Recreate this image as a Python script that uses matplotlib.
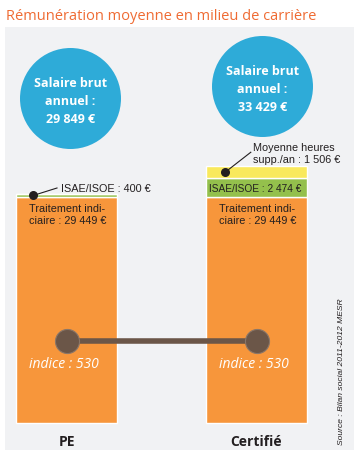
import matplotlib.pyplot as plt

# data
categories = ["PE", "Certifié"]
traitement = [29449, 29449]
isae = [400, 2474]
heures_supp = [0, 1506]
salaire = ["29 849 €", "33 429 €"]
indice = [530, 530]

orange = "#f7963b"
green = "#94c04c"
yellow = "#f9e95c"
blue = "#2eabd8"
brown = "#6b5648"
dark = "#231f20"
narrow = ["Liberation Sans", "DejaVu Sans"]

fig = plt.figure(figsize=(3.61, 4.56), dpi=100)
fig.patch.set_facecolor("white")
fig.text(6 / 361, 1 - 16 / 456, "Rémunération moyenne en milieu de carrière",
         color="#ef6b33", fontsize=10.5, family="Open Sans", va="center", ha="left")

# panel area in pixels: x 5..354, y 28..451
ax = fig.add_axes([5 / 361, 1 - 451 / 456, 349 / 361, 423 / 456])
ax.set_facecolor("#f1f2f4")
for s in ax.spines.values():
    s.set_visible(False)
ax.set_xticks([])
ax.set_yticks([])

scale = 29449 / 226  # euros per pixel
ax.set_xlim(-61.5 / 190, 1 + 97.5 / 190)
ax.set_ylim(-27 * scale, 396 * scale)

x = [0, 1]
w = 101 / 190
ax.bar(x, traitement, width=w, color=orange, edgecolor="white", linewidth=1)
ax.bar(x, isae, width=w, bottom=traitement, color=green, edgecolor="white", linewidth=1)
bottom3 = [t + i for t, i in zip(traitement, isae)]
ax.bar(x, heures_supp, width=w, bottom=bottom3, color=yellow, edgecolor="white", linewidth=1)

# labels inside / under bars
for i in x:
    ax.text(i - 0.195, traitement[i] - 6 * scale,
            "Traitement indi-\nciaire : %s €" % f"{traitement[i]:,}".replace(",", " "),
            fontsize=7.8, family=narrow, color=dark, va="top", ha="left", linespacing=1.2)
    ax.text(i, -18 * scale, categories[i], fontsize=10, fontweight="bold",
            family="Open Sans", color=dark, ha="center", va="center")
    ax.text(i - 0.015, 59 * scale, "indice : %d" % indice[i], fontsize=10, style="italic",
            family="Open Sans", color="white", ha="center", va="center")

# ISAE labels
y_pe = traitement[0] + isae[0] / 2
ax.scatter([-0.175], [y_pe], s=30, color=dark, zorder=5)
ax.plot([-0.175, -0.05], [y_pe, traitement[0] + 9 * scale], color=dark, lw=0.8)
ax.text(-0.03, traitement[0] + 9 * scale, "ISAE/ISOE : 400 €", fontsize=7.8, family=narrow,
        color=dark, va="center", ha="left")
ax.text(0.995, traitement[1] + isae[1] / 2, "ISAE/ISOE : 2 474 €", fontsize=7.3, family=narrow,
        color=dark, va="center", ha="center")

# heures supp label
y_hs = bottom3[1] + heures_supp[1] / 2
ax.scatter([1 - 0.165], [y_hs], s=30, color=dark, zorder=5)
ax.plot([1 - 0.165, 1 - 0.03], [y_hs, y_hs + 20 * scale], color=dark, lw=0.8)
ax.text(1 - 0.02, y_hs + 19 * scale, "Moyenne heures\nsupp./an : 1 506 €", fontsize=7.8,
        family=narrow, color=dark, va="center", ha="left", linespacing=1.2)

# indice link
ax.plot(x, [82 * scale] * 2, color=brown, lw=4, zorder=4)
ax.scatter(x, [82 * scale] * 2, s=300, color=brown, edgecolor="#8a7668", lw=0.8, zorder=5)

# salary circles
circ_x = [0.02, 1.03]
circ_y = [325 * scale, 337 * scale]
ax.scatter(circ_x, circ_y, s=(101 * 0.72) ** 2, color=blue, lw=0, zorder=3)
for i in x:
    ax.text(circ_x[i], circ_y[i] - 2 * scale, "Salaire brut\nannuel :\n" + salaire[i],
            fontsize=9, fontweight="bold", family="Open Sans", color="white",
            ha="center", va="center", linespacing=1.5, zorder=6)

# source
ax.text(1.445, -21 * scale, "Source : Bilan social 2011-2012 MESR", rotation=90, fontsize=6.1,
        style="italic", family=narrow, color=dark, ha="center", va="bottom")

plt.savefig("out.png", dpi=100)
